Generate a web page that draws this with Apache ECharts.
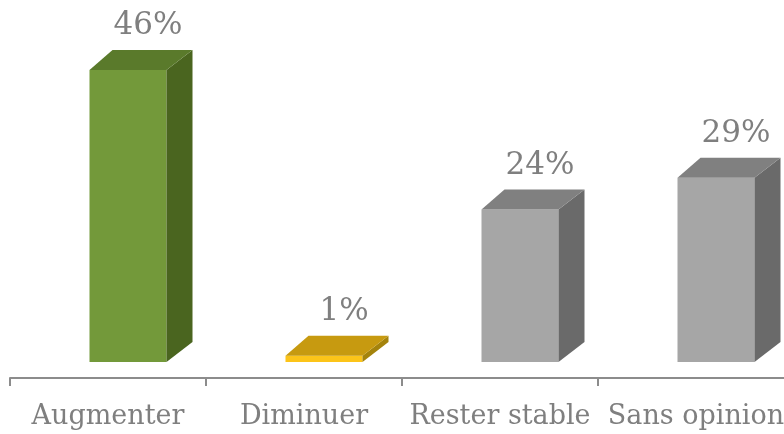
<!DOCTYPE html>
<html>
<head>
<meta charset="utf-8">
<script src="https://cdn.jsdelivr.net/npm/echarts@6/dist/echarts.min.js"></script>
<style>
  html, body { margin: 0; padding: 0; background: #ffffff; overflow: hidden; }
  #chart { width: 794px; height: 434px; }
</style>
</head>
<body>
<div id="chart"></div>
<script>
// data
const categories = ["Augmenter", "Diminuer", "Rester stable", "Sans opinion"];
const values = [46, 1, 24, 29];

// bar faces: front / top / side
const palette = [
  { front: "#73993a", top: "#5a7a2b", side: "#4a651f" },
  { front: "#fcc419", top: "#c79a10", side: "#a4830c" },
  { front: "#a6a6a6", top: "#808080", side: "#6a6a6a" },
  { front: "#a6a6a6", top: "#808080", side: "#6a6a6a" },
];

const chart = echarts.init(document.getElementById("chart"));

function renderBar(params, api) {
  const i = params.dataIndex;
  const base = api.coord([i, 0]);
  const head = api.coord([i, api.value(1)]);
  const c = palette[i];
  const w = 77, dxL = 23, dxR = 26, dy = 20;
  const left = base[0] + 20 - w / 2;
  const right = left + w;
  const yb = base[1], yt = head[1];
  return {
    type: "group",
    children: [
      {
        type: "rect",
        shape: { x: left, y: yt, width: w, height: yb - yt },
        style: { fill: c.front },
      },
      {
        type: "polygon",
        shape: { points: [[right, yt], [right + dxR, yt - dy], [right + dxR, yb - dy], [right, yb]] },
        style: { fill: c.side },
      },
      {
        type: "polygon",
        shape: { points: [[left, yt], [left + dxL, yt - dy], [right + dxR, yt - dy], [right, yt]] },
        style: { fill: c.top },
      },
      {
        type: "text",
        style: {
          text: api.value(1) + "%",
          x: left + w / 2 + 20,
          y: yt - 28,
          align: "center",
          verticalAlign: "bottom",
          fill: "#7f7f7f",
          font: "31px 'DejaVu Serif'",
        },
      },
    ],
  };
}

chart.setOption({
  animation: false,
  grid: { left: 10, right: 0, top: 44.5, bottom: 56 },
  xAxis: {
    type: "category",
    data: categories,
    axisLine: { onZero: false, lineStyle: { color: "#8c8c8c", width: 2 } },
    axisTick: { show: true, length: 8, lineStyle: { color: "#8c8c8c", width: 2 } },
    axisLabel: {
      color: "#7f7f7f",
      fontFamily: "DejaVu Serif",
      fontSize: 27,
      margin: 25,
      interval: 0,
    },
  },
  yAxis: {
    type: "value",
    min: -2.52,
    max: 50,
    show: false,
  },
  series: [
    {
      type: "custom",
      renderItem: renderBar,
      data: values.map((v, i) => [i, v]),
      clip: false,
    },
  ],
});
</script>
</body>
</html>
